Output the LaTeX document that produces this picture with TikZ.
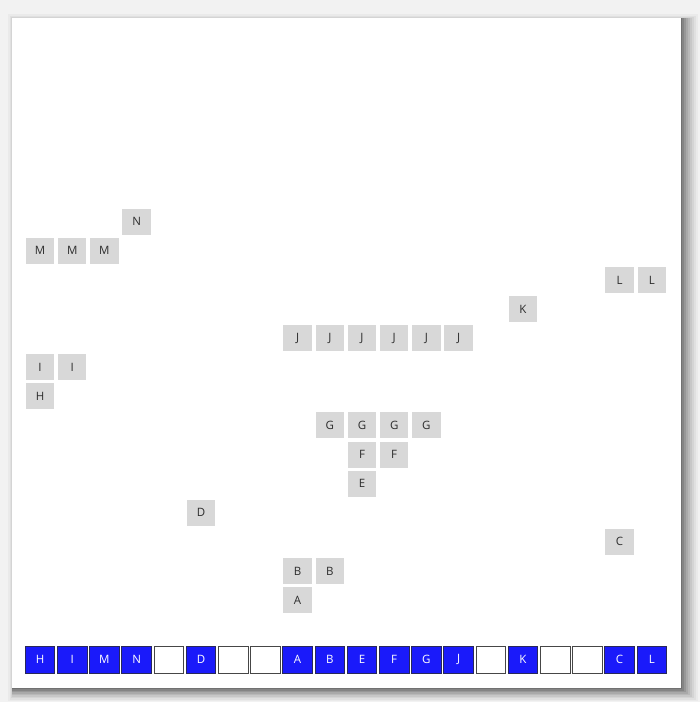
\documentclass[tikz,border=0pt]{standalone}
\usepackage{fontspec}
\setmainfont{Open Sans}
\definecolor{pagegray}{RGB}{242,242,242}
\definecolor{probegray}{RGB}{216,216,216}
\definecolor{probetext}{RGB}{45,45,45}
\definecolor{slotblue}{RGB}{26,26,250}
\definecolor{slotedge}{RGB}{40,40,90}
\definecolor{emptyedge}{RGB}{70,70,70}
\tikzset{
	probe/.style={fill=probegray, text=probetext, inner sep=0pt, minimum width=28.5, minimum height=26, font=\fontsize{11.5}{13}\selectfont},
	slotfull/.style={fill=slotblue, draw=slotedge, line width=0.9, text=white, inner sep=0pt, minimum width=29.5, minimum height=27, font=\fontsize{11.5}{13}\selectfont},
	slotempty/.style={fill=white, draw=emptyedge, line width=0.9, inner sep=0pt, minimum width=29.5, minimum height=27},
}
\begin{document}
\begin{tikzpicture}[x=1pt,y=1pt,yscale=-1,xscale=1]
		%set diagram at 700 by 702
		\fill [pagegray] (0,0) rectangle (700,702);
		\useasboundingbox (0,0) rectangle (700,702);
		
		%Shadow layers 
		\fill [black, opacity=0.03] (8,14) rectangle (698,701);
		\fill [black, opacity=0.04] (10,16) rectangle (696,700);
		\fill [black, opacity=0.05] (11,17) rectangle (694,698);
		\fill [black, opacity=0.06] (12,18) rectangle (692,697);
		\fill [black, opacity=0.07] (12,18) rectangle (690,695);
		\fill [black, opacity=0.08] (12,18) rectangle (688,694);
		\fill [black, opacity=0.10] (12,18) rectangle (686,692);
		\fill [black, opacity=0.12] (12,18) rectangle (684,691);
		\fill [black, opacity=0.14] (12,18) rectangle (682,689);
		%Card 
		\fill [white] (12,18) rectangle (681,688);
		
		% Probe sequences: A
		\draw (297.6,600) node [probe] (a0) {A};
		% B
		\draw (297.6,570.9) node [probe] (b0) {B};
		\draw (329.8,570.9) node [probe] (b1) {B};
		% C
		\draw (619.6,541.8) node [probe] (c0) {C};
		% D
		\draw (201,512.7) node [probe] (d0) {D};
		% E
		\draw (362,483.6) node [probe] (e0) {E};
		% F
		\draw (362,454.5) node [probe] (f0) {F};
		\draw (394.2,454.5) node [probe] (f1) {F};
		% G
		\draw (329.8,425.4) node [probe] (g0) {G};
		\draw (362,425.4) node [probe] (g1) {G};
		\draw (394.2,425.4) node [probe] (g2) {G};
		\draw (426.4,425.4) node [probe] (g3) {G};
		% H
		\draw (40,396.3) node [probe] (h0) {H};
		% I
		\draw (40,367.2) node [probe] (i0) {I};
		\draw (72.2,367.2) node [probe] (i1) {I};
		% J
		\draw (297.6,338.1) node [probe] (j0) {J};
		\draw (329.8,338.1) node [probe] (j1) {J};
		\draw (362,338.1) node [probe] (j2) {J};
		\draw (394.2,338.1) node [probe] (j3) {J};
		\draw (426.4,338.1) node [probe] (j4) {J};
		\draw (458.6,338.1) node [probe] (j5) {J};
		% K
		\draw (523,309) node [probe] (k0) {K};
		% L
		\draw (619.6,279.9) node [probe] (l0) {L};
		\draw (651.8,279.9) node [probe] (l1) {L};
		% M
		\draw (40,250.8) node [probe] (m0) {M};
		\draw (72.2,250.8) node [probe] (m1) {M};
		\draw (104.4,250.8) node [probe] (m2) {M};
		% N
		\draw (136.6,221.7) node [probe] (n0) {N};
		
		% Table slots
		\draw (40,659.5) node [slotfull] (s0) {H};
		\draw (72.2,659.5) node [slotfull] (s1) {I};
		\draw (104.4,659.5) node [slotfull] (s2) {M};
		\draw (136.6,659.5) node [slotfull] (s3) {N};
		\draw (168.8,659.5) node [slotempty] (s4) {};
		\draw (201,659.5) node [slotfull] (s5) {D};
		\draw (233.2,659.5) node [slotempty] (s6) {};
		\draw (265.4,659.5) node [slotempty] (s7) {};
		\draw (297.6,659.5) node [slotfull] (s8) {A};
		\draw (329.8,659.5) node [slotfull] (s9) {B};
		\draw (362,659.5) node [slotfull] (s10) {E};
		\draw (394.2,659.5) node [slotfull] (s11) {F};
		\draw (426.4,659.5) node [slotfull] (s12) {G};
		\draw (458.6,659.5) node [slotfull] (s13) {J};
		\draw (490.8,659.5) node [slotempty] (s14) {};
		\draw (523,659.5) node [slotfull] (s15) {K};
		\draw (555.2,659.5) node [slotempty] (s16) {};
		\draw (587.4,659.5) node [slotempty] (s17) {};
		\draw (619.6,659.5) node [slotfull] (s18) {C};
		\draw (651.8,659.5) node [slotfull] (s19) {L};
	\end{tikzpicture}
\end{document}
